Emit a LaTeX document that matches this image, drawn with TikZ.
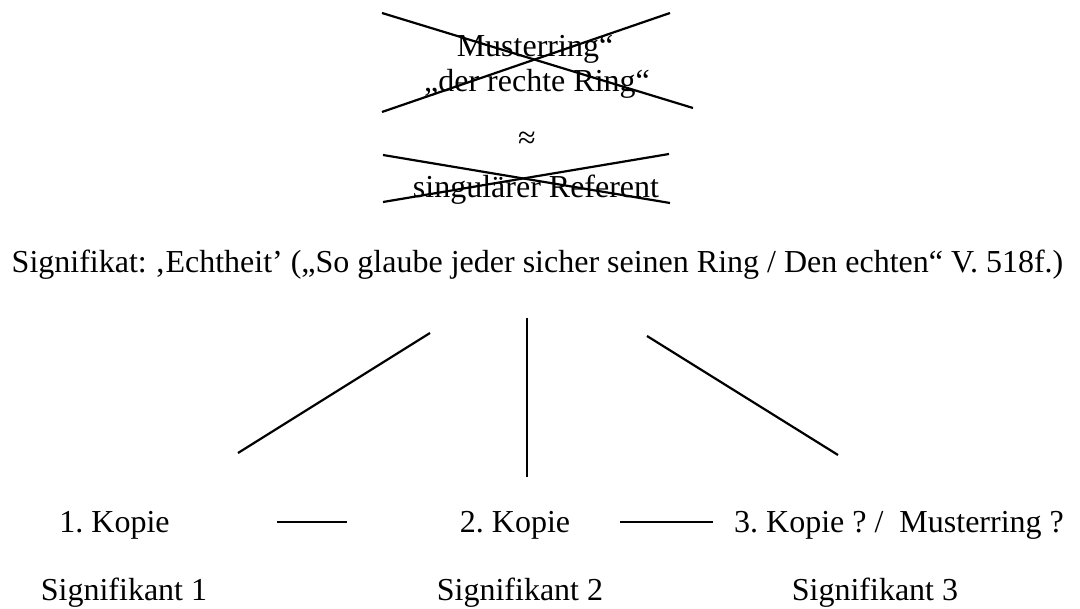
\documentclass[tikz,border=0pt]{standalone}
\usepackage{fontspec}
\setmainfont{Liberation Serif}
\begin{document}
\frenchspacing
\begin{tikzpicture}[x=1pt,y=-1pt,
  lbl/.style={inner sep=0pt,anchor=base,font=\fontsize{32}{38}\selectfont},
  stroke/.style={line width=2.2pt,line cap=butt}]
\useasboundingbox (0,0) rectangle (1080,609);

% crossed-out upper terms
\node[lbl] (muster) at (535,57) {Musterring“};
\node[lbl] (recht) at (537,92) {„der rechte Ring“};
\node[lbl] (approx) at (527,149) {≈};
\node[lbl] (ref) at (536,198) {singulärer Referent};

\coordinate (xa1) at (382,13);  \coordinate (xa2) at (693,108);
\coordinate (xb1) at (670,13);  \coordinate (xb2) at (382,112);
\coordinate (ya1) at (383,155); \coordinate (ya2) at (670,203);
\coordinate (yb1) at (383,202); \coordinate (yb2) at (669,154);
\draw[stroke] (xa1) -- (xa2);
\draw[stroke] (xb1) -- (xb2);
\draw[stroke] (ya1) -- (ya2);
\draw[stroke] (yb1) -- (yb2);

% signified
\node[lbl] (sig) at (537.5,273) {Signifikat: ‚Echtheit’ („So glaube jeder sicher seinen Ring / Den echten“ V. 518f.)};

% branches to the three signifiers
\coordinate (l1) at (430,333); \coordinate (l2) at (238,453);
\coordinate (m1) at (527,318); \coordinate (m2) at (527,477);
\coordinate (r1) at (647,336); \coordinate (r2) at (838,455);
\draw[stroke] (l1) -- (l2);
\draw[stroke] (m1) -- (m2);
\draw[stroke] (r1) -- (r2);

% copies
\node[lbl] (k1) at (114.5,533) {1. Kopie};
\node[lbl] (k2) at (515,533) {2. Kopie};
\node[lbl] (k3) at (899,533) {3. Kopie ? /\ \ Musterring ?};

\coordinate (d1a) at (277,522); \coordinate (d1b) at (347,522);
\coordinate (d2a) at (620,522); \coordinate (d2b) at (713,522);
\draw[stroke] (d1a) -- (d1b);
\draw[stroke] (d2a) -- (d2b);

% signifiers
\node[lbl] (s1) at (124,601) {Signifikant 1};
\node[lbl] (s2) at (520,601) {Signifikant 2};
\node[lbl] (s3) at (875,601) {Signifikant 3};
\end{tikzpicture}
\end{document}
